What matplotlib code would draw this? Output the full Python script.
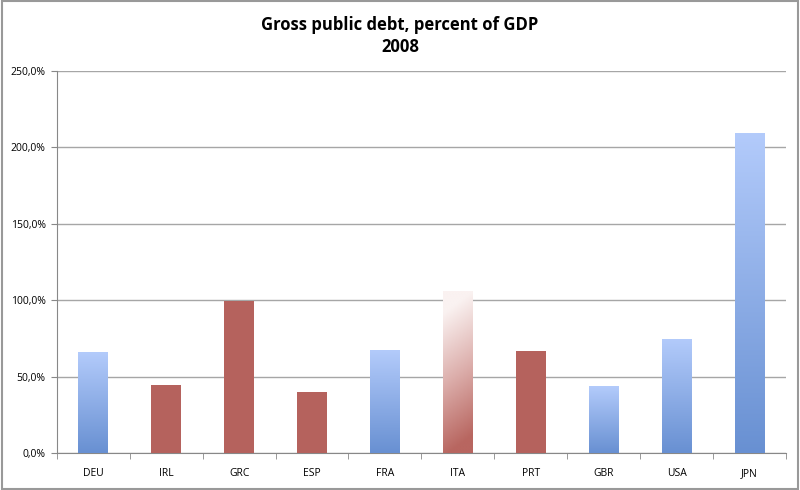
import matplotlib
matplotlib.use("Agg")
import matplotlib.pyplot as plt
from matplotlib.colors import LinearSegmentedColormap
from matplotlib.patches import Rectangle
import numpy as np

countries = ['DEU', 'IRL', 'GRC', 'ESP', 'FRA', 'ITA', 'PRT', 'GBR', 'USA', 'JPN']
debt = [66.0, 44.2, 99.4, 39.7, 67.4, 106.0, 66.6, 43.6, 74.8, 209.4]
# 'b' = blue gradient, 'r' = flat red, 'f' = faded red gradient
style = ['b', 'r', 'r', 'r', 'b', 'f', 'r', 'b', 'b', 'b']

plt.rcParams['font.family'] = ['Open Sans', 'DejaVu Sans']

fig = plt.figure(figsize=(8, 4.9), dpi=100)
ax = fig.add_axes([0.071, 0.0755, 0.9115, 0.7795])

x = np.arange(len(countries))

blue = LinearSegmentedColormap.from_list('blue', ['#6890d2', '#b3cbfb'])
fade = LinearSegmentedColormap.from_list('fade', ['#b86660', '#dcaeab', '#faf2f1'])
grad = np.linspace(0, 1, 256).reshape(-1, 1)

bars = ax.bar(x, debt, width=0.41, color='#b5625d', zorder=3)
for b, s in zip(bars, style):
    if s == 'r':
        continue
    b.set_facecolor('none')
    x0, w, h = b.get_x(), b.get_width(), b.get_height()
    cmap = blue if s == 'b' else fade
    img = grad
    if s == 'f':
        xx, yy = np.meshgrid(np.linspace(0, 1, 50), np.linspace(0, 1, 256))
        img = np.clip(yy * 1.12 - xx * 0.15 + 0.03, 0, 1)
    im = ax.imshow(img, cmap=cmap, origin='lower', aspect='auto',
                   extent=[x0, x0 + w, 0, h], zorder=3)
    im.set_clip_path(b)
ax.set_xlim(-0.5, len(countries) - 0.5)
ax.set_ylim(0, 250)

ax.set_yticks([0, 50, 100, 150, 200, 250])
ax.set_yticklabels(['0,0%', '50,0%', '100,0%', '150,0%', '200,0%', '250,0%'], fontsize=7.5)
ax.yaxis.grid(True, color='#a6a6a6', linewidth=1)
ax.set_axisbelow(True)

ax.set_xticks(x)
ax.set_xticklabels(countries, fontsize=7.5)
ax.tick_params(axis='x', length=0, pad=11)
ax.set_xticks(np.arange(-0.5, len(countries) + 0.5, 1), minor=True)
ax.tick_params(axis='x', which='minor', length=4, color='#888888', direction='out')
ax.tick_params(axis='y', length=4, color='#888888', pad=4)

for side in ['top', 'right']:
    ax.spines[side].set_visible(False)
ax.spines['left'].set_color('#888888')
ax.spines['bottom'].set_color('#888888')

fig.text(0.5, 0.95, 'Gross public debt, percent of GDP', ha='center', va='center',
         fontsize=12, fontweight='bold')
fig.text(0.5, 0.905, '2008', ha='center', va='center', fontsize=12, fontweight='bold')

fig.patches.append(Rectangle((0.002, 0.003), 0.996, 0.994, transform=fig.transFigure,
                             fill=False, edgecolor='#999999', linewidth=1.5))

fig.savefig('out.png', dpi=100)
